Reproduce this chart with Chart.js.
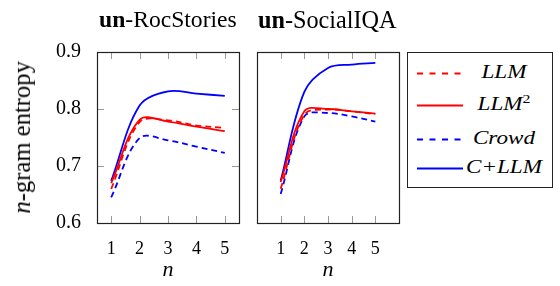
<!DOCTYPE html>
<html><head><meta charset="utf-8">
<script src="https://cdn.jsdelivr.net/npm/chart.js@4"></script>
<style>
html,body{margin:0;padding:0;background:#fff;}
#wrap{position:relative;width:560px;height:286px;overflow:hidden;font-family:"Liberation Serif","Times New Roman",serif;}
canvas{position:absolute;top:0;}
.t{position:absolute;font-size:19px;color:#000;white-space:nowrap;line-height:1;}
#legend{position:absolute;left:407px;top:52px;width:146px;height:136px;border:1px solid #222;box-sizing:border-box;}
.row{position:absolute;left:0;width:145px;height:24px;}
.row svg{position:absolute;left:9px;top:11px;}
.row span{position:absolute;left:56px;width:80px;text-align:center;font-style:italic;font-size:19px;top:0;line-height:22px;font-family:"Liberation Serif","Times New Roman",serif;}
</style></head>
<body><div id="wrap">
<canvas id="c1" width="245" height="286" style="left:0;width:245px;height:286px"></canvas>
<canvas id="c2" width="160" height="286" style="left:245px;width:160px;height:286px"></canvas>
<div class="t" id="t1" data-w="138" data-cx="168" data-cy="20"><b>un</b>-RocStories</div>
<div class="t" id="t2" data-w="139" data-cx="327.5" data-cy="20"><b>un</b>-SocialIQA</div>
<div class="t" id="t3" data-w="153" data-cx="22" data-cy="137" data-rot="1"><i>n</i>-gram entropy</div>
<div id="legend">
 <div class="row" style="top:8px"><svg width="46" height="3"><line x1="0" y1="1.5" x2="46" y2="1.5" stroke="#f00" stroke-width="1.8" stroke-dasharray="6,6.5"/></svg><span>LLM</span></div>
 <div class="row" style="top:40px"><svg width="46" height="3"><line x1="0" y1="1.5" x2="46" y2="1.5" stroke="#f00" stroke-width="1.8"/></svg><span>LLM<sup style="font-size:13px;line-height:0;font-style:normal">2</sup></span></div>
 <div class="row" style="top:74px"><svg width="46" height="3"><line x1="0" y1="1.5" x2="46" y2="1.5" stroke="#00f" stroke-width="1.8" stroke-dasharray="6,6.5"/></svg><span>Crowd</span></div>
 <div class="row" style="top:103px"><svg width="46" height="3"><line x1="0" y1="1.5" x2="46" y2="1.5" stroke="#00f" stroke-width="1.8"/></svg><span id="cllm">C+LLM</span></div>
</div>
</div>
<script>
const nValues = [1, 2, 3, 4, 5];
const yTicks = [0.6, 0.7, 0.8, 0.9];
// un-RocStories
const rocLLM    = [0.660, 0.777, 0.780, 0.771, 0.767];
const rocLLM2   = [0.670, 0.781, 0.778, 0.769, 0.761];
const rocCrowd  = [0.645, 0.749, 0.745, 0.734, 0.723];
const rocCLLM   = [0.674, 0.806, 0.831, 0.827, 0.823];
// un-SocialIQA
const sqaLLM    = [0.660, 0.790, 0.799, 0.796, 0.791];
const sqaLLM2   = [0.672, 0.796, 0.800, 0.796, 0.792];
const sqaCrowd  = [0.651, 0.787, 0.793, 0.787, 0.778];
const sqaCLLM   = [0.674, 0.830, 0.872, 0.878, 0.881];

// fit HTML labels to the reference widths
document.querySelectorAll('.t').forEach(el=>{
  const w = el.offsetWidth;
  el.style.fontSize = (19 * parseFloat(el.dataset.w) / w) + 'px';
  const W = el.offsetWidth, H = el.offsetHeight;
  el.style.left = (parseFloat(el.dataset.cx) - W/2) + 'px';
  el.style.top = (parseFloat(el.dataset.cy) - H/2) + 'px';
  if (el.dataset.rot) el.style.transform = 'rotate(-90deg)';
});
(function(){
  const c = document.getElementById('cllm');
  const r = document.createRange(); r.selectNodeContents(c);
  const w = r.getBoundingClientRect().width;
  const s = 76 / w;
  document.querySelectorAll('.row span').forEach(sp=>{ sp.style.transform = 'scaleX(' + s + ')'; });
})();

const RED = '#ff0000', BLUE = '#0000ff';
function ds(vals, color, dashed){
  return {data: nValues.map((x,i)=>({x, y: vals[i]})), borderColor: color, backgroundColor: color,
    borderWidth: 1.8, borderDash: dashed ? [6,4] : [], pointRadius: 0, tension: 0.35, fill: false};
}
const frame = {
  id: 'frame',
  afterDatasetsDraw(chart, args, opts){
    const {ctx, chartArea: a, scales} = chart;
    ctx.save();
    ctx.strokeStyle = '#999'; ctx.lineWidth = 1;
    nValues.forEach(v=>{
      const x = Math.round(scales.x.getPixelForValue(v)) + 0.5;
      ctx.beginPath(); ctx.moveTo(x, a.bottom); ctx.lineTo(x, a.bottom - 7);
      ctx.moveTo(x, a.top); ctx.lineTo(x, a.top + 7); ctx.stroke();
    });
    if (opts.yTicks) {
      yTicks.forEach(v=>{
        const y = Math.round(scales.y.getPixelForValue(v)) + 0.5;
        ctx.beginPath(); ctx.moveTo(a.left, y); ctx.lineTo(a.left + 7, y);
        ctx.moveTo(a.right, y); ctx.lineTo(a.right - 7, y); ctx.stroke();
      });
    }
    ctx.strokeStyle = '#222'; ctx.lineWidth = 1.2;
    ctx.strokeRect(Math.round(a.left)+0.5, Math.round(a.top)+0.5, Math.round(a.right-a.left), Math.round(a.bottom-a.top));
    ctx.restore();
  }
};
const FAM = '"Liberation Serif", "Times New Roman", serif';
function makeChart(id, data, xmin, xmax, left){
  return new Chart(document.getElementById(id), {
    type: 'line',
    data: {datasets: data},
    plugins: [frame],
    options: {
      responsive: false, animation: false,
      layout: {padding: {left: left ? 0 : 12, right: 6, top: 52, bottom: 0}},
      plugins: {legend: {display: false}, tooltip: {enabled: false}, frame: {yTicks: left}},
      scales: {
        x: {type: 'linear', min: xmin, max: xmax,
          afterBuildTicks: s => { s.ticks = nValues.map(v=>({value: v})); },
          grid: {display: false}, border: {display: false},
          ticks: {font: {family: FAM, size: 18}, color: '#000', padding: 7, maxRotation: 0, autoSkip: false},
          title: {display: true, text: 'n', font: {family: FAM, size: 22, style: 'italic'}, color: '#000', padding: {top: 0, bottom: 3}},
          afterFit: s => { s.height = 63; }
        },
        y: {type: 'linear', min: 0.6, max: 0.9, display: left,
          afterBuildTicks: s => { s.ticks = yTicks.map(v=>({value: v})); },
          grid: {display: false}, border: {display: false},
          ticks: {font: {family: FAM, size: 20}, color: '#000', padding: 8, callback: v => v.toFixed(1)},
          afterFit: s => { s.width = left ? 97 : 0; }
        }
      }
    }
  });
}
makeChart('c1', [ds(rocLLM, RED, true), ds(rocLLM2, RED, false), ds(rocCrowd, BLUE, true), ds(rocCLLM, BLUE, false)], 0.5, 5.5, true);
makeChart('c2', [ds(sqaLLM, RED, true), ds(sqaLLM2, RED, false), ds(sqaCrowd, BLUE, true), ds(sqaCLLM, BLUE, false)], 0, 6, false);
</script>
</body></html>
